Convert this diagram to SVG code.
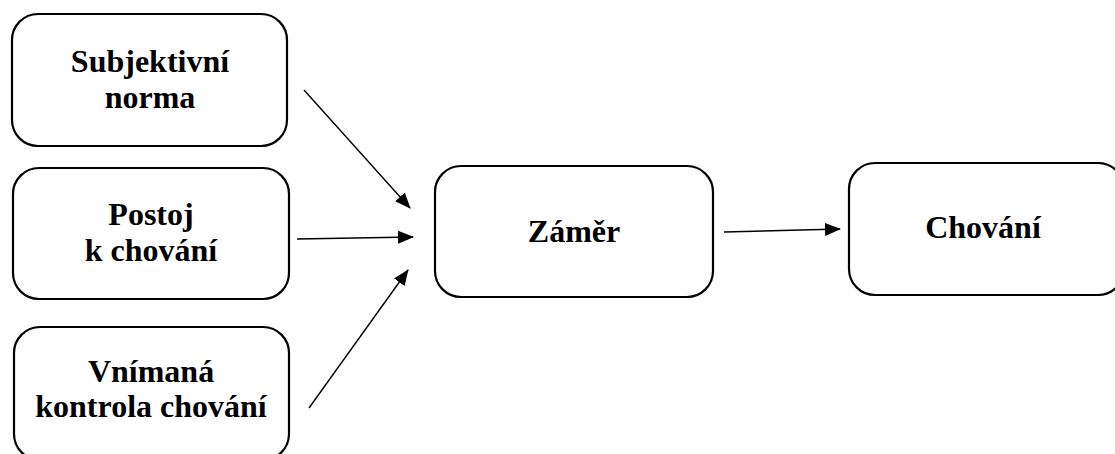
<svg xmlns="http://www.w3.org/2000/svg" width="1115" height="454" viewBox="0 0 1115 454">
  <style>
    .box { fill: #ffffff; stroke: #000000; stroke-width: 2.2; }
    .label { font-family: "Liberation Serif", "Times New Roman", serif; font-weight: bold; font-size: 32px; fill: #000000; text-anchor: middle; }
    .link { stroke: #000000; stroke-width: 1.4; fill: none; marker-end: url(#head); }
  </style>
  <defs>
    <marker id="head" markerWidth="16" markerHeight="13" refX="15" refY="6.5" orient="auto" markerUnits="userSpaceOnUse">
      <path d="M0,0 L16,6.5 L0,13 Z" fill="#000000"/>
    </marker>
  </defs>
  <rect width="1115" height="454" fill="#ffffff"/>

  <g id="subjektivni-norma">
    <rect class="box" x="12" y="14" width="275" height="132" rx="26" ry="26"/>
    <text class="label" x="150" y="72">Subjektivní</text>
    <text class="label" x="150" y="108">norma</text>
  </g>

  <g id="postoj">
    <rect class="box" x="13" y="168" width="276" height="131" rx="26" ry="26"/>
    <text class="label" x="151" y="225">Postoj</text>
    <text class="label" x="151" y="261">k chování</text>
  </g>

  <g id="vnimana-kontrola">
    <rect class="box" x="14" y="327" width="275" height="133" rx="26" ry="26"/>
    <text class="label" x="151" y="382">Vnímaná</text>
    <text class="label" x="151" y="417">kontrola chování</text>
  </g>

  <g id="zamer">
    <rect class="box" x="435" y="166" width="278" height="131" rx="26" ry="26"/>
    <text class="label" x="574" y="242">Záměr</text>
  </g>

  <g id="chovani">
    <rect class="box" x="849" y="163" width="275" height="132" rx="26" ry="26"/>
    <text class="label" x="983" y="238">Chování</text>
  </g>

  <g id="connectors">
    <line class="link" x1="304" y1="90" x2="410" y2="208"/>
    <line class="link" x1="297" y1="239" x2="413" y2="237"/>
    <line class="link" x1="309" y1="408" x2="408" y2="270"/>
    <line class="link" x1="724" y1="232" x2="840" y2="229"/>
  </g>
</svg>
